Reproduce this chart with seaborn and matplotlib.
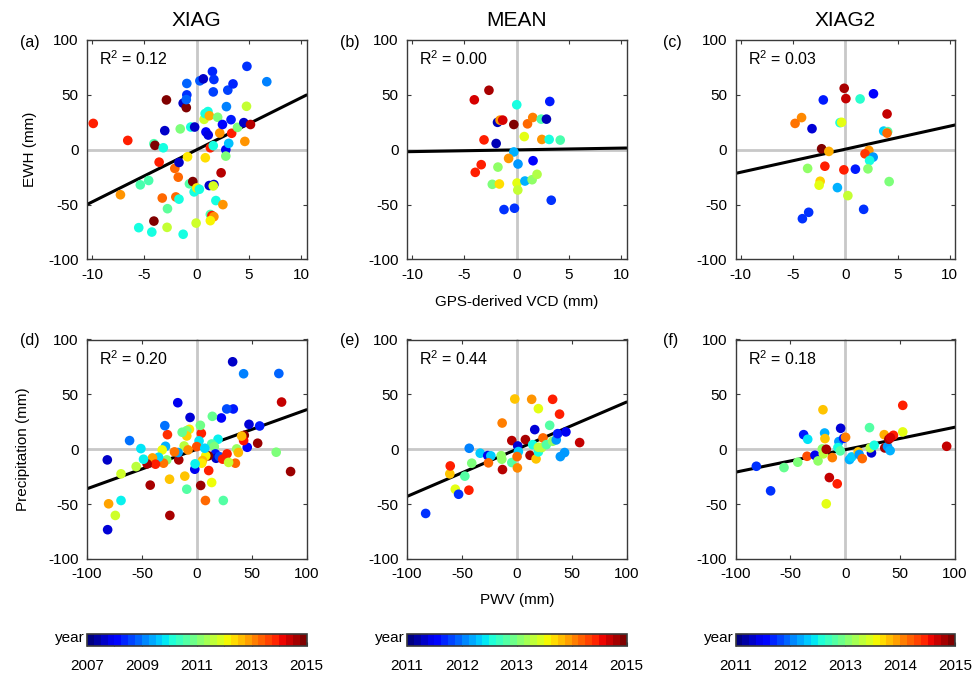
import numpy as np
import pandas as pd
import matplotlib
matplotlib.use("Agg")
import matplotlib.pyplot as plt
import seaborn as sns
from matplotlib.colors import Normalize, ListedColormap

# ---------------- data ----------------
titles = ["XIAG", "MEAN", "XIAG2"]
panel_labels = ["(a)", "(b)", "(c)", "(d)", "(e)", "(f)"]
r2_labels = ["0.12", "0.00", "0.03", "0.20", "0.44", "0.18"]
fit_slope = [4.75, 0.16, 2.1, 0.36, 0.43, 0.205]
fit_intercept = [0.0, -0.1, 0.5, 0.0, 0.0, -0.4]
year_ranges = [(2007, 2015), (2011, 2015), (2011, 2015)]
cbar_labels_0 = ["2007", "", "2009", "", "2011", "", "2013", "", "2015"]
cbar_labels_1 = ["2011", "2012", "2013", "2014", "2015"]

a_x = [-9.9, -6.6, -7.3, -5.55, -5.4, -4.6, -4.3, -4.1, -4.0, -4.1, -3.6, -3.3, -2.8, -3.2, -3.06, -2.9, -2.84,
       -1.3, -2.1, -2.0, -1.7, -1.77, -1.7, -1.58, -1.3, -1.0, -0.95, -0.95, -1.0, -0.88, -0.57, -0.2, -0.7,
       -0.38, -0.25, 0.0, 0.25, -0.06, 0.3, 0.63, 0.7, 0.8, 1.07, 1.2, 2.0, 0.88, 1.1, 1.3, 1.58, 0.82, 1.2,
       1.64, 1.58, 1.5, 1.64, 1.58, 1.3, 1.45, 1.64, 1.3, 1.83, 2.2, 2.46, 2.33, 2.78, 2.78, 2.5, 2.84, 2.97,
       3.06, 3.28, 3.34, 3.47, 3.9, 4.5, 4.76, 4.6, 4.8, 5.14, 6.7]
a_y = [24, 8.5, -41, -71, -32, -28, -75, 5.5, 4, -65, -11.3, -44, -53.7, 1.8, 17.4, 45.4, -70.7,
       -77, -17, -43, -45, -25, -11.6, 19, 42.4, 38.4, 60.4, 50, 45.7, -6.4, 20.7, 20.7, -31,
       -29, -38.4, -34.8, -36, -66.8, 62.8, 64.6, 27.7, 33, 34.8, 31, 29.6, 16.2, 13.4, 1.8, 3.7, -7.3, -32.6,
       -31.7, -33, 71.3, 64, 52.7, -59, -60, -61, -64.6, -46.3, 15.2, 23, -21, 0, -5.8, -50, 39.3, 54.3,
       5.8, 27.4, 15, 60, 20.4, 24.7, 39.6, 7.6, 76, 23, 62]
a_year = [2014, 2014, 2013, 2010, 2010.5, 2010.5, 2010, 2010.5, 2015, 2015, 2014, 2013.4, 2010.7, 2010, 2007.5, 2015, 2011.7,
          2010, 2013.4, 2013.4, 2010, 2013.4, 2007.5, 2011, 2007.5, 2015, 2008.8, 2008.4, 2008.8, 2012.3, 2010, 2007.5, 2010.6,
          2015, 2010, 2012.3, 2010, 2011.8, 2008.7, 2007.5, 2011.8, 2010, 2010, 2012.8, 2011, 2008, 2007.7, 2014, 2010, 2012.4, 2007.5,
          2007.5, 2011.9, 2008.3, 2008.4, 2008.5, 2010.5, 2014, 2013, 2012.2, 2010, 2013, 2008, 2014.6, 2007.8, 2011, 2013, 2009, 2008.5,
          2009.5, 2008.2, 2014, 2008.3, 2011, 2007.5, 2011.7, 2013, 2008.4, 2014.6, 2009]

b_x = [-4.06, -2.66, 0.0, 3.16, -1.84, -1.6, -1.34, -0.28, 1.03, 1.53, 2.34, 2.84, -3.13, -1.97, 0.72, 2.4, 3.1, 4.16,
       -0.28, -0.78, 0.12, 1.56, -3.4, -3.97, -1.8, -2.34, -1.66, 0.03, 0.1, 0.78, 1.47, 1.94, 3.3, -1.22, -0.22]
b_y = [45.5, 54.2, 41, 44, 25, 27, 27, 23, 23.6, 29.4, 27.9, 27.9, 9, 5.7, 12, 9.4, 9.4, 8.8,
       -2, -7.9, -13, -10, -13.6, -20.6, -15.8, -31.5, -31.2, -30.3, -36.7, -28.5, -27.3, -22.4, -46, -54.5, -53.3]
b_year = [2014.7, 2014.85, 2012.5, 2011.6, 2011.2, 2014, 2014.7, 2015, 2014.2, 2014.1, 2012.75, 2011.2, 2014.5, 2011.2,
          2013.5, 2014, 2012.5, 2012.75, 2012.2, 2014, 2012.1, 2011.5, 2014.5, 2014.5, 2013.1, 2013, 2013.7, 2013.5,
          2013.35, 2012.2, 2013.1, 2013.25, 2011.7, 2011.7, 2011.7]

c_x = [-0.1, 0.06, -2.1, 1.42, 2.7, 4.0, -4.18, -4.8, -3.18, -0.5, -0.35, 3.68, 4.06, 4.0, -2.26, -1.57, 2.26, 1.89,
       2.67, 2.33, -3.6, -1.95, -0.13, 0.97, 2.17, -2.4, -2.5, -0.75, 4.2, 0.25, 1.76, -3.5, -4.1]
c_y = [56, 46.6, 45.4, 46.3, 51, 32.6, 29.3, 24, 19.2, 24.7, 25, 17, 16.5, 15.2, 0.9, -1.5, -0.6, -3.7,
       -6.7, -9.8, -17, -15, -18.3, -17.7, -17.4, -28.7, -32.3, -34.5, -29, -41.8, -54.3, -57, -62.8]
c_year = [2014.85, 2014.75, 2011.6, 2012.6, 2011.5, 2014.75, 2014.05, 2014.15, 2011.3, 2012.5, 2013.5, 2012.3, 2012.8,
          2014.2, 2015, 2013.9, 2014, 2014.4, 2012.1, 2012.5, 2013.1, 2014.5, 2014.5, 2011.6, 2013.05, 2013.75, 2013.5,
          2012.2, 2013, 2013.35, 2011.7, 2011.7, 2011.7]

d_x = [32.7, 42.7, 74.8, 77.3, 85.5, 72.4, 57.3, 47.6, 46, 55.5, 43.3, 42.7, 40.9, 36.4, 37.9, 35.2, 33.3, 27.3, 22.4,
       14.2, 19.4, 13.6, 16, 17, 17.6, 20.6, 23.6, 27.6, 29, 24.2, 10.6, 8.2, 5.2, 4.5, 10.9, 13.6, 7.9, 3.6, -1.8,
       -1.5, 4.2, 3.3, 2.1, 0, 7.3, -6.1, -6.7, -9.1, -9.1, -13.3, -11.5, -7.9, -16.4, -17, -20.3, -17.3, -26.7,
       -29.1, -28.5, -31.5, -27.3, -30.3, -34.8, -40.3, -37.6, -45.2, -48.5, -55.2, -50.9, -61.2, -69, -81.5, -42.4,
       -24.8, -10.9, -9.1, -24.5, -69, -80.3, -74.2, -81.2]
d_y = [79.7, 68.8, 69, 43, -20.3, -2.7, 21.2, 22.7, 1.8, 5.5, 12.7, 7.9, 12, 0.3, -3, -12.7, 36.7, 36.7, 28.5,
       30, 9.1, 4.8, 2.4, -4.2, -8.2, -6.7, -9, -4.2, -12, -46.7, -6, -6, -10.3, -12.7, -19.4, -30.3, -46.7, -33, -18.2,
       -13.3, 14.5, 21.8, 7.6, 2.4, 0.9, 29, 18.2, 17, 12.1, 15.5, 3, -0.6, -9.7, -3, -2.4, 42.4, 13.3,
       21.5, 2.7, -0.6, -9.7, -12.7, -7.3, -7.9, -13.6, -13.3, -9.1, -15.8, 0.6, 7.9, -22.4, -9.7, -32.7,
       -27.3, -24.5, -36.4, -60.3, -46.7, -49.7, -60.3, -73.3]
d_year = [2007.5, 2009, 2008.8, 2014.5, 2014.8, 2011, 2008.2, 2007.6, 2007.9, 2014.8, 2014.9, 2014.1, 2012.7, 2011.3,
          2012.7, 2013.4, 2008.2, 2008.6, 2007.9, 2010.8, 2009.9, 2010.6, 2011, 2008.2, 2007.5, 2008.6, 2014, 2014,
          2011.7, 2010.6, 2015, 2012.2, 2012.7, 2012.3, 2014, 2012.1, 2013.4, 2014.8, 2007.8, 2009.9, 2014, 2010.9,
          2009.8, 2013.6, 2009.7, 2007.6, 2012.3, 2011, 2012.5, 2010.8, 2011.6, 2013.1, 2014.7, 2009.3, 2013.3, 2007.8,
          2013.9, 2008.9, 2009.4, 2012.1, 2011.1, 2013.3, 2009.7, 2012.9, 2014, 2014.7, 2009.9, 2011.6, 2009.8, 2008.9,
          2011.8, 2007.5, 2014.7, 2012.6, 2012.6, 2010.6, 2014.7, 2009.9, 2012.9, 2011.8, 2007.6]

e_x = [-83, -56, -53, -43.6, -61, -60.6, -47.3, -41, -43.3, -33.3, -26.4, -23.6, -25.8, -14.2, -13.6, -13, -13.3,
       -4.5, -4.5, -1.8, 0.9, 1.5, 0.3, 0.6, 7.9, 12.1, 13.6, 16.4, 14.5, 17.6, 19.7, 19.7, 19.7, 22.7, 23.9, 27,
       30, 32.7, 32.7, 36, 37.3, 39, 44.8, 39.7, 43.6, 57.3]
e_y = [-58.5, -36.4, -41, -37.3, -22.4, -15.2, -24.5, -12.7, 0.9, -3.6, -5.8, -6, -12.4, -5.8, -9.1, -18.5, 23.9,
       -12.1, 7.9, 45.8, 3, -2.1, -6.7, -17, 8.8, -5.5, 45.5, 17.9, 4.2, -8.8, 37, -2.4, 1.8, 1.5, 10.3, 4.2,
       21.8, 45.5, 7.3, 8.5, 14.2, 32, 15.8, -6.7, -3, 6.1]
e_year = [2011.7, 2013.5, 2011.7, 2014.5, 2013.8, 2014.5, 2012.8, 2013, 2012.0, 2012.3, 2011.4, 2012.3, 2014.2,
          2013.1, 2013.1, 2014.8, 2014.1, 2012.8, 2014.8, 2013.8, 2011.3, 2012.3, 2014.2, 2014.05, 2014.85, 2014.85,
          2014, 2011.3, 2012.5, 2013.8, 2013.5, 2012.5, 2013.3, 2013.3, 2014.2, 2012.8, 2012.8, 2014.5, 2013.1,
          2012.1, 2011.6, 2014.5, 2011.4, 2012.1, 2012.1, 2014.75]

f_x = [-81, -68, -55.8, -43.3, -37.9, -34.2, -34.8, -27.6, -24.8, -20.3, -18.8, -18.5, -20.9, -20, -17.3, -11.8,
       -14.5, -7.3, -17.3, -4.2, -5.8, -6.7, -4.5, -1.5, 0.3, 3.9, 5.8, 11.8, 12.7, 15.5, 22.1, 23.9, 22.7, 26.4,
       35.5, 36, 38.5, 40.9, 39.7, 43.9, 41.2, 52.4, 52.4, 92.4]
f_y = [-15.5, -37.9, -16.7, -11.8, 13.3, 9.1, -6.4, -5.5, -10.6, 36, 14.8, 9.7, 0.3, -4.2, 0, -7.6,
       -25.8, -31.5, -49.7, 19.1, 7, 1.5, -1.5, 10, 10.9, -9.4, -7, -2.4, -4.8, -8.5, 19.7, -3.3, 1.2, 3.6,
       13.3, 1.2, 2.4, -1.2, 9.1, 12.7, 10.6, 15.8, 40, 2.7]
f_year = [2011.7, 2011.7, 2012.9, 2013, 2011.6, 2012.4, 2014.3, 2011.4, 2013.1, 2013.8, 2012.2, 2013.8, 2013.1,
          2013.3, 2014.85, 2014.1, 2014.75, 2014.5, 2013.5, 2011.3, 2012.1, 2012.5, 2012.8, 2011.6, 2014.1, 2012.2,
          2012.3, 2013.8, 2012.1, 2014.2, 2012.8, 2011.3, 2013.3, 2012.5, 2013.9, 2014.85, 2012.1, 2012.2, 2014.85,
          2014.5, 2014.7, 2013.5, 2014.5, 2014.75]

panels_x = [a_x, b_x, c_x, d_x, e_x, f_x]
panels_y = [a_y, b_y, c_y, d_y, e_y, f_y]
panels_year = [a_year, b_year, c_year, d_year, e_year, f_year]

# ---------------- style ----------------
sns.set_style("ticks")
plt.rcParams["font.family"] = ["Liberation Sans", "DejaVu Sans"]
plt.rcParams["mathtext.fontset"] = "custom"
plt.rcParams["mathtext.rm"] = "Liberation Sans"
plt.rcParams["mathtext.it"] = "Liberation Sans"
plt.rcParams["mathtext.default"] = "regular"
plt.rcParams["axes.unicode_minus"] = False
plt.rcParams["text.color"] = "black"
plt.rcParams["axes.labelcolor"] = "black"
plt.rcParams["axes.titlecolor"] = "black"

fig = plt.figure(figsize=(9.75, 6.76), dpi=100)

lefts = [87 / 975, 407 / 975, 735.5 / 975]
width = 219.5 / 975
bottoms = [1 - 259.5 / 676, 1 - 559 / 676]
height = 219.5 / 676

jet = matplotlib.colormaps["jet"]
jet32 = ListedColormap(jet(np.linspace(0, 1, 32)))
spine_col = "#3a3a3a"

axes = []
for i in range(6):
    row, col = divmod(i, 3)
    ax = fig.add_axes([lefts[col], bottoms[row], width, height])
    axes.append(ax)
    if row == 0:
        xlim = (-10.5, 10.5)
        xticks = [-10, -5, 0, 5, 10]
    else:
        xlim = (-100, 100)
        xticks = [-100, -50, 0, 50, 100]
    ax.axhline(0, color="#c8c8c8", lw=2.0, zorder=1)
    ax.axvline(0, color="#c8c8c8", lw=2.0, zorder=1)

    xs = np.array(xlim)
    fit_df = pd.DataFrame({"x": xs, "y": fit_slope[i] * xs + fit_intercept[i]})
    sns.lineplot(data=fit_df, x="x", y="y", ax=ax, color="black", lw=2.2, zorder=2)

    df = pd.DataFrame({"x": panels_x[i], "y": panels_y[i], "year": panels_year[i]})
    sns.scatterplot(data=df, x="x", y="y", hue="year", palette=jet,
                    hue_norm=year_ranges[col], s=48, linewidth=0, legend=False,
                    ax=ax, zorder=3)

    ax.set_xlim(*xlim)
    ax.set_ylim(-100, 100)
    ax.set_xticks(xticks)
    ax.set_yticks([-100, -50, 0, 50, 100])
    ax.tick_params(direction="in", top=True, right=True, length=3, width=0.8,
                   color=spine_col, labelsize=11, pad=6, labelcolor="black")
    for sp in ax.spines.values():
        sp.set_color(spine_col)
        sp.set_linewidth(1.0)
    ax.set_xlabel("")
    ax.set_ylabel("")
    ax.text(0.055, 0.915, "R$^2$ = " + r2_labels[i], transform=ax.transAxes,
            ha="left", va="center", fontsize=11.5)
    fig.text((20 if col == 0 else (340 if col == 1 else 663)) / 975,
             1 - (42 if row == 0 else 340) / 676, panel_labels[i],
             ha="left", va="center", fontsize=11.5)

for col in range(3):
    axes[col].set_title(titles[col], fontsize=15, pad=10)

axes[0].set_ylabel("EWH (mm)", fontsize=11)
axes[0].yaxis.set_label_coords(-(87 - 37) / 219.5, 0.5)
axes[3].set_ylabel("Precipitation (mm)", fontsize=11)
axes[3].yaxis.set_label_coords(-(87 - 30) / 219.5, 0.5)
axes[1].set_xlabel("GPS-derived VCD (mm)", fontsize=11)
axes[1].xaxis.set_label_coords(0.5, -(295 - 259.5) / 219.5)
axes[4].set_xlabel("PWV (mm)", fontsize=11)
axes[4].xaxis.set_label_coords(0.5, -(593 - 559) / 219.5)

# colorbars
cb_bottom = 1 - 646 / 676
cb_height = 12 / 676
for col in range(3):
    cax = fig.add_axes([lefts[col], cb_bottom, width, cb_height])
    lo, hi = year_ranges[col]
    sm = plt.cm.ScalarMappable(norm=Normalize(lo, hi), cmap=jet32)
    cb = fig.colorbar(sm, cax=cax, orientation="horizontal")
    ticks = list(range(lo, hi + 1))
    cb.set_ticks(ticks)
    cb.set_ticklabels(cbar_labels_0 if col == 0 else cbar_labels_1)
    cb.outline.set_edgecolor(spine_col)
    cb.outline.set_linewidth(1.2)
    cax.tick_params(direction="in", length=3, width=0.8, color=spine_col,
                    labelsize=11, pad=9, labelcolor="black")
    fig.text(lefts[col] - 2 / 975, 1 - 638 / 676, "year", ha="right", va="center", fontsize=11)

fig.savefig("out.png", dpi=100)
